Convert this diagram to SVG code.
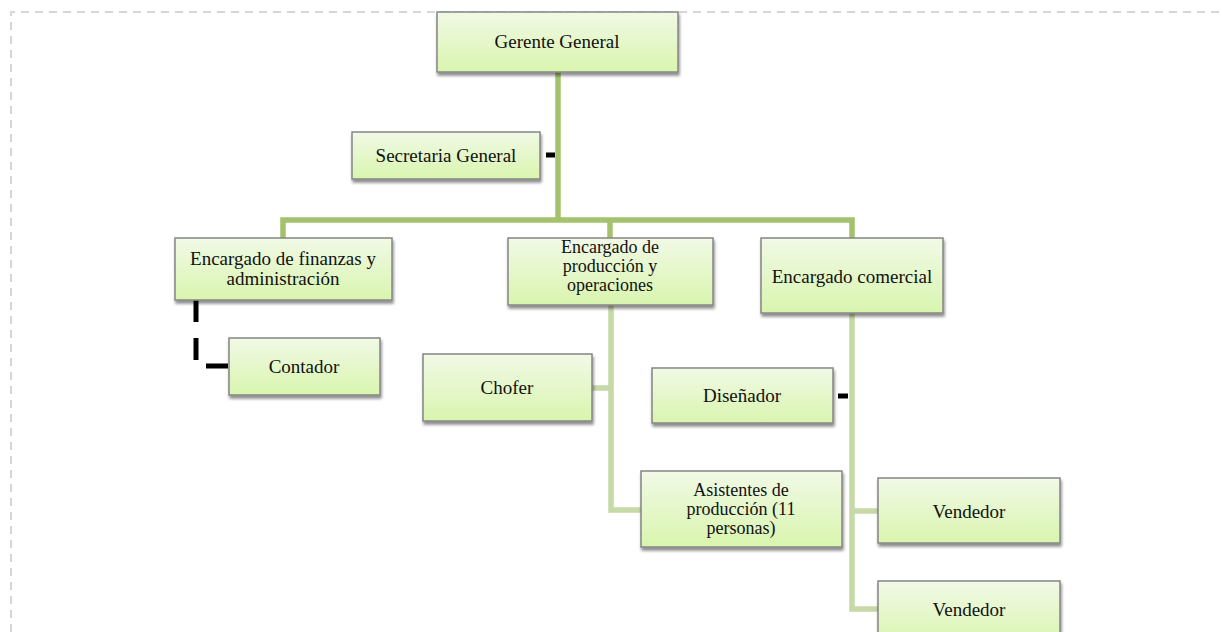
<svg xmlns="http://www.w3.org/2000/svg" width="1222" height="632" viewBox="0 0 1222 632">
<style>
.box{fill:url(#g);stroke:#858585;stroke-width:1.5;filter:url(#sh)}
.t{font-family:"Liberation Serif","Times New Roman",serif;font-size:19px;fill:#111;text-anchor:middle}
.m{font-size:18px}
.c1{fill:none;stroke:#a3c26b;stroke-width:5.5}
.c2{fill:none;stroke:#c6d9a6;stroke-width:5.5}
.k{fill:none;stroke:#000;stroke-width:5}
</style>
<defs>
<linearGradient id="g" x1="0" y1="0" x2="0" y2="1">
<stop offset="0" stop-color="#f1f9e6"/>
<stop offset="1" stop-color="#d9f5ae"/>
</linearGradient>
<filter id="sh" x="-10%" y="-10%" width="120%" height="130%">
<feGaussianBlur in="SourceAlpha" stdDeviation="1.5"/>
<feOffset dx="1" dy="2.5" result="o"/>
<feComponentTransfer><feFuncA type="linear" slope="0.45"/></feComponentTransfer>
<feMerge><feMergeNode/><feMergeNode in="SourceGraphic"/></feMerge>
</filter>
</defs>
<rect width="1222" height="632" fill="#fff"/>
<path d="M11,632 V12 H1222" fill="none" stroke="#d6d6d6" stroke-width="2" stroke-dasharray="8,6"/>
<g id="connectors">
<path class="c1" d="M558,72 V220"/>
<path class="c1" d="M283,238 V220 H852 V238"/>
<path class="c1" d="M610,220 V238"/>
<path class="c2" d="M611,305 V510 H641"/>
<path class="c2" d="M592,388 H611"/>
<path class="c2" d="M852,313 V609 H878"/>
<path class="c2" d="M852,511 H878"/>
<path class="k" d="M546,155 H555"/>
<path class="k" d="M838,396 H848"/>
<path class="k" d="M196,300 V366 H229" stroke-dasharray="22,16"/>
</g>
<g id="gerente"><rect class="box" x="437" y="12" width="241" height="60"/><text class="t" x="557" y="48">Gerente General</text></g>
<g id="secretaria"><rect class="box" x="352" y="132" width="188" height="47"/><text class="t" x="446" y="162">Secretaria General</text></g>
<g id="finanzas"><rect class="box" x="175" y="238" width="217" height="62"/><text class="t" x="283" y="265">Encargado de finanzas y</text><text class="t" x="283" y="285">administración</text></g>
<g id="produccion"><rect class="box" x="508" y="238" width="205" height="67"/><text class="t m" x="610" y="253">Encargado de</text><text class="t m" x="610" y="272">producción y</text><text class="t m" x="610" y="291">operaciones</text></g>
<g id="comercial"><rect class="box" x="761" y="238" width="182" height="75"/><text class="t" x="852" y="283">Encargado comercial</text></g>
<g id="contador"><rect class="box" x="229" y="338" width="151" height="57"/><text class="t" x="304" y="373">Contador</text></g>
<g id="chofer"><rect class="box" x="423" y="354" width="169" height="67"/><text class="t" x="507" y="394">Chofer</text></g>
<g id="disenador"><rect class="box" x="652" y="368" width="181" height="55"/><text class="t" x="742" y="402">Diseñador</text></g>
<g id="asistentes"><rect class="box" x="641" y="471" width="201" height="76"/><text class="t m" x="741" y="496">Asistentes de</text><text class="t m" x="741" y="515">producción (11</text><text class="t m" x="741" y="534">personas)</text></g>
<g id="vendedor1"><rect class="box" x="878" y="478" width="182" height="65"/><text class="t" x="969" y="518">Vendedor</text></g>
<g id="vendedor2"><rect class="box" x="878" y="581" width="182" height="65"/><text class="t" x="969" y="616">Vendedor</text></g>
</svg>
